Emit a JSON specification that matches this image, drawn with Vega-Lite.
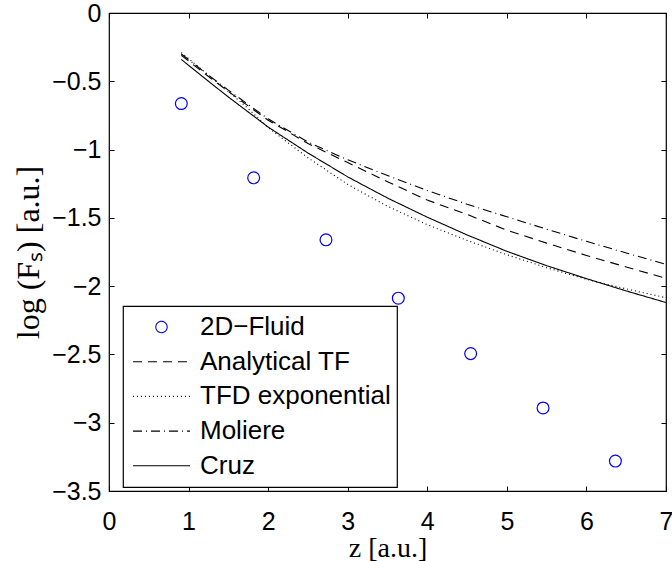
{
  "$schema": "https://vega.github.io/schema/vega-lite/v6.json",
  "autosize": "none",
  "width": 557,
  "height": 478,
  "padding": {"left": 109, "top": 13, "right": 6, "bottom": 70},
  "background": "white",
  "config": {
    "view": {"stroke": "#000", "strokeWidth": 1.2},
    "axis": {
      "domain": false,
      "grid": false,
      "ticks": true,
      "tickColor": "#000",
      "tickSize": -5,
      "tickWidth": 1,
      "labelFont": "Liberation Sans",
      "labelFontSize": 25,
      "labelColor": "#000",
      "titleFont": "Liberation Serif",
      "titleFontSize": 32,
      "titleFontWeight": "normal",
      "titleColor": "#000"
    }
  },
  "datasets": {
    "pts": [
      {"series": "2D−Fluid", "z": 0.909, "v": -0.663},
      {"series": "2D−Fluid", "z": 1.818, "v": -1.207},
      {"series": "2D−Fluid", "z": 2.727, "v": -1.661},
      {"series": "2D−Fluid", "z": 3.636, "v": -2.088},
      {"series": "2D−Fluid", "z": 4.545, "v": -2.494},
      {"series": "2D−Fluid", "z": 5.455, "v": -2.892},
      {"series": "2D−Fluid", "z": 6.364, "v": -3.281}
    ],
    "lines": [
      {"series": "Analytical TF", "z": 0.909, "v": -0.31},
      {"series": "Analytical TF", "z": 1.25, "v": -0.465},
      {"series": "Analytical TF", "z": 1.5, "v": -0.575},
      {"series": "Analytical TF", "z": 1.75, "v": -0.68},
      {"series": "Analytical TF", "z": 2, "v": -0.785},
      {"series": "Analytical TF", "z": 2.5, "v": -0.955},
      {"series": "Analytical TF", "z": 3, "v": -1.095},
      {"series": "Analytical TF", "z": 3.5, "v": -1.235},
      {"series": "Analytical TF", "z": 4, "v": -1.37},
      {"series": "Analytical TF", "z": 4.5, "v": -1.475},
      {"series": "Analytical TF", "z": 5, "v": -1.59},
      {"series": "Analytical TF", "z": 5.5, "v": -1.685},
      {"series": "Analytical TF", "z": 6, "v": -1.775},
      {"series": "Analytical TF", "z": 6.5, "v": -1.86},
      {"series": "Analytical TF", "z": 7, "v": -1.942},
      {"series": "TFD exponential", "z": 0.909, "v": -0.29},
      {"series": "TFD exponential", "z": 1.25, "v": -0.455},
      {"series": "TFD exponential", "z": 1.5, "v": -0.575},
      {"series": "TFD exponential", "z": 1.75, "v": -0.70},
      {"series": "TFD exponential", "z": 2, "v": -0.84},
      {"series": "TFD exponential", "z": 2.5, "v": -1.06},
      {"series": "TFD exponential", "z": 3, "v": -1.255},
      {"series": "TFD exponential", "z": 3.5, "v": -1.415},
      {"series": "TFD exponential", "z": 4, "v": -1.55},
      {"series": "TFD exponential", "z": 4.5, "v": -1.665},
      {"series": "TFD exponential", "z": 5, "v": -1.77},
      {"series": "TFD exponential", "z": 5.5, "v": -1.865},
      {"series": "TFD exponential", "z": 6, "v": -1.95},
      {"series": "TFD exponential", "z": 6.5, "v": -2.02},
      {"series": "TFD exponential", "z": 7, "v": -2.085},
      {"series": "Moliere", "z": 0.909, "v": -0.30},
      {"series": "Moliere", "z": 1.25, "v": -0.455},
      {"series": "Moliere", "z": 1.5, "v": -0.565},
      {"series": "Moliere", "z": 1.75, "v": -0.67},
      {"series": "Moliere", "z": 2, "v": -0.775},
      {"series": "Moliere", "z": 2.5, "v": -0.945},
      {"series": "Moliere", "z": 3, "v": -1.075},
      {"series": "Moliere", "z": 3.5, "v": -1.19},
      {"series": "Moliere", "z": 4, "v": -1.30},
      {"series": "Moliere", "z": 4.5, "v": -1.40},
      {"series": "Moliere", "z": 5, "v": -1.492},
      {"series": "Moliere", "z": 5.5, "v": -1.583},
      {"series": "Moliere", "z": 6, "v": -1.672},
      {"series": "Moliere", "z": 6.5, "v": -1.757},
      {"series": "Moliere", "z": 7, "v": -1.84},
      {"series": "Cruz", "z": 0.909, "v": -0.34},
      {"series": "Cruz", "z": 1.25, "v": -0.50},
      {"series": "Cruz", "z": 1.5, "v": -0.615},
      {"series": "Cruz", "z": 1.75, "v": -0.725},
      {"series": "Cruz", "z": 2, "v": -0.835},
      {"series": "Cruz", "z": 2.5, "v": -1.025},
      {"series": "Cruz", "z": 3, "v": -1.20},
      {"series": "Cruz", "z": 3.5, "v": -1.355},
      {"series": "Cruz", "z": 4, "v": -1.495},
      {"series": "Cruz", "z": 4.5, "v": -1.625},
      {"series": "Cruz", "z": 5, "v": -1.745},
      {"series": "Cruz", "z": 5.5, "v": -1.85},
      {"series": "Cruz", "z": 6, "v": -1.945},
      {"series": "Cruz", "z": 6.5, "v": -2.035},
      {"series": "Cruz", "z": 7, "v": -2.12}
    ]
  },
  "layer": [
    {
      "data": {"name": "lines"},
      "mark": {"type": "line", "strokeWidth": 1.1, "clip": true},
      "encoding": {
        "x": {"field": "z", "type": "quantitative", "scale": {"domain": [0, 7], "nice": false, "zero": false}, "axis": null},
        "y": {"field": "v", "type": "quantitative", "scale": {"domain": [-3.5, 0], "nice": false, "zero": false}, "axis": null},
        "color": {
          "field": "series", "type": "nominal",
          "scale": {"domain": ["2D−Fluid", "Analytical TF", "TFD exponential", "Moliere", "Cruz"], "range": ["#0000ff", "#000000", "#000000", "#000000", "#000000"]},
          "legend": {
            "title": null,
            "orient": "none",
            "legendX": 14,
            "legendY": 293,
            "padding": 6,
            "fillColor": "white",
            "strokeColor": "#000",
            "cornerRadius": 0,
            "labelFont": "Liberation Sans",
            "labelFontSize": 26,
            "labelLimit": 400,
            "labelColor": "#000",
            "labelOffset": 9,
            "symbolOffset": 3,
            "clipHeight": 30,
            "rowPadding": 4.7,
            "symbolSize": 3249,
            "symbolStrokeWidth": 1,
            "encode": {
              "legend": {"update": {"strokeWidth": {"value": 1.2}}},
              "symbols": {
                "update": {
                  "shape": {"signal": "datum.value === '2D−Fluid' ? 'circle' : 'stroke'"},
                  "size": {"signal": "datum.value === '2D−Fluid' ? 130 : 3249"},
                  "stroke": {"signal": "datum.value === '2D−Fluid' ? '#0000ff' : '#000000'"},
                  "fill": {"value": "transparent"},
                  "strokeWidth": {"value": 1.1},
                  "strokeDash": {"signal": "datum.value === 'Analytical TF' ? [9,6] : datum.value === 'TFD exponential' ? [1,3] : datum.value === 'Moliere' ? [9,4,1,4] : [1,0]"}
                }
              }
            }
          }
        },
        "strokeDash": {
          "field": "series", "type": "nominal",
          "scale": {"domain": ["Analytical TF", "TFD exponential", "Moliere", "Cruz"], "range": [[9, 6], [1, 3], [9, 4, 1, 4], [1, 0]]},
          "legend": null
        }
      }
    },
    {
      "data": {"name": "pts"},
      "mark": {"type": "point", "shape": "circle", "filled": false, "size": 140, "strokeWidth": 1.2, "opacity": 1},
      "encoding": {
        "x": {"field": "z", "type": "quantitative", "title": "z  [a.u.]",
          "axis": {"orient": "bottom", "values": [0, 1, 2, 3, 4, 5, 6, 7], "format": "d", "labelPadding": 23, "titlePadding": 0, "titleFontSize": 28, "labelFlush": false}},
        "y": {"field": "v", "type": "quantitative", "title": "log (Fₛ)  [a.u.]",
          "axis": {"orient": "left", "values": [0, -0.5, -1, -1.5, -2, -2.5, -3, -3.5], "format": ".1~f", "labelPadding": 13, "titlePadding": 6, "labelFlush": false}},
        "color": {"field": "series", "type": "nominal"}
      }
    },
    {
      "data": {"name": "pts"},
      "mark": {"type": "point", "opacity": 0},
      "encoding": {
        "x": {"field": "z", "type": "quantitative", "axis": {"orient": "top", "values": [0, 1, 2, 3, 4, 5, 6, 7], "labels": false, "title": null}},
        "y": {"field": "v", "type": "quantitative", "axis": {"orient": "right", "values": [0, -0.5, -1, -1.5, -2, -2.5, -3, -3.5], "labels": false, "title": null}}
      }
    }
  ],
  "resolve": {"axis": {"x": "independent", "y": "independent"}}
}
